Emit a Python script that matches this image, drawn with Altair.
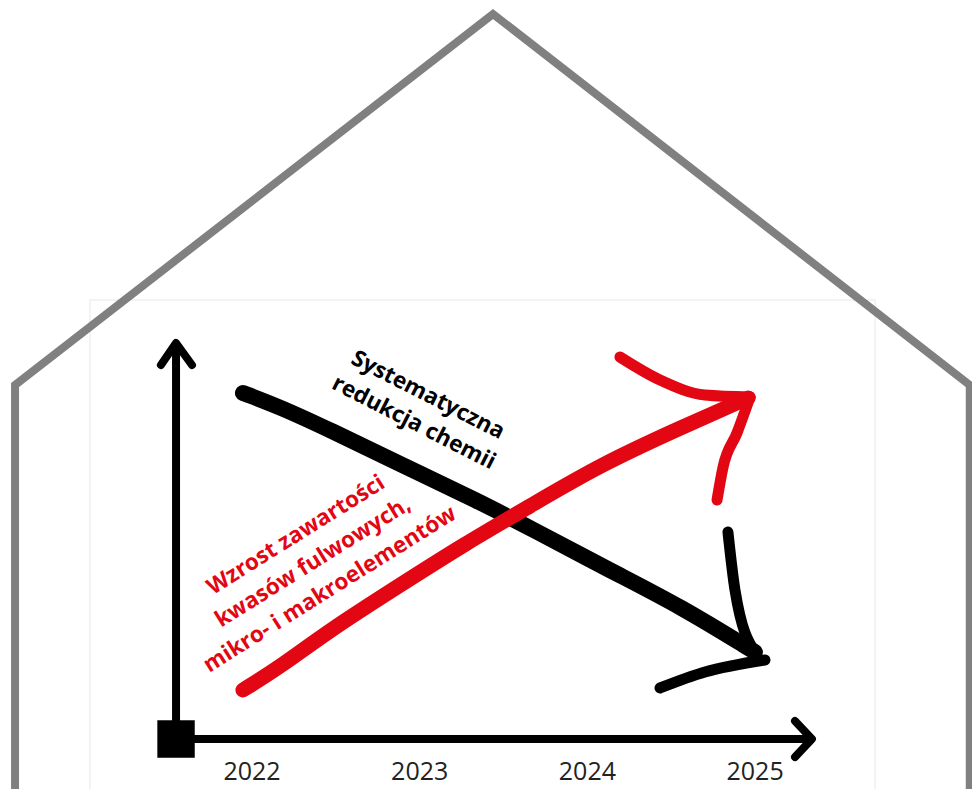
import altair as alt
import pandas as pd

# ---- coordinate system: x in years, y in abstract "level" units ----
X_DOMAIN = [2020.545, 2026.2934]
Y_DOMAIN = [-1.25, 18.275]

# ---- tick labels ----
years = [2022, 2023, 2024, 2025]
year_labels = ["2022", "2023", "2024", "2025"]
label_level = -0.82

# ---- house outline (decoration) ----
house_x = [2020.587, 2020.587, 2023.437, 2026.28, 2026.28]
house_y = [-1.6, 8.85, 18.125, 8.85, -1.6]

# ---- faint frame of the pasted picture ----
frame_x = [2021.034, 2021.034, 2025.715, 2025.715]
frame_y = [-1.6, 10.975, 10.975, -1.6]

# ---- axis arrows ----
yaxis_x = [2021.547, 2021.547]
yaxis_y = [0.0, 9.85]
yhead_x = [2021.457, 2021.547, 2021.642]
yhead_y = [9.35, 9.9, 9.35]
xaxis_x = [2021.547, 2025.327]
xaxis_y = [0.0, 0.0]
xhead_x = [2025.238, 2025.339, 2025.238]
xhead_y = [0.45, 0.0, -0.45]
origin_x = [2021.547]
origin_y = [0.0]

# ---- black series: reduction of chemistry ----
black_x = [2021.946, 2022.167, 2022.465, 2022.883, 2023.360, 2023.658, 2024.153, 2024.552, 2024.999]
black_y = [8.65, 8.3, 7.725, 6.875, 5.925, 5.275, 4.175, 3.325, 2.175]
black_barb1_x = [2024.838, 2024.880, 2024.999]
black_barb1_y = [5.175, 3.725, 2.175]
black_barb2_x = [2024.433, 2024.701, 2025.059]
black_barb2_y = [1.275, 1.675, 1.975]

# ---- red series: growth of fulvic acids / micro- and macroelements ----
red_x = [2021.946, 2022.167, 2022.465, 2022.865, 2023.258, 2023.658, 2024.075, 2024.552, 2024.958]
red_y = [1.225, 1.8, 2.725, 3.8, 4.85, 5.825, 6.85, 7.775, 8.525]
red_barb1_x = [2024.194, 2024.433, 2024.701, 2024.970]
red_barb1_y = [9.55, 8.975, 8.6, 8.55]
red_barb2_x = [2024.773, 2024.809, 2024.892, 2024.970]
red_barb2_y = [5.975, 6.8, 7.65, 8.55]

black_label = "Systematyczna\nredukcja chemii"
black_label_x, black_label_y = 2023.049, 8.6
red_label = "Wzrost zawartości\nkwasów fulwowych,\nmikro- i makroelementów"
red_label_x, red_label_y = 2022.262, 5.1

RED = "#e30613"
GREY = "#808080"
FONT = "Open Sans"

xs = alt.Scale(domain=X_DOMAIN, nice=False, zero=False)
ys = alt.Scale(domain=Y_DOMAIN, nice=False, zero=False)
X = alt.X("x:Q", scale=xs, axis=None)
Y = alt.Y("y:Q", scale=ys, axis=None)


def poly(parts):
    rows = []
    for seg, (px, py) in enumerate(parts):
        for i, (a, b) in enumerate(zip(px, py)):
            rows.append({"seg": seg, "i": i, "x": a, "y": b})
    return pd.DataFrame(rows)


def lines(df, **kw):
    return alt.Chart(df).mark_line(**kw).encode(
        x=X, y=Y, detail="seg:N", order="i:Q",
    )


frame = lines(poly([(frame_x, frame_y)]), color="#efefef", strokeWidth=1.5)
house = lines(poly([(house_x, house_y)]), color=GREY, strokeWidth=8, strokeJoin="miter")
axes = lines(
    poly([(yaxis_x, yaxis_y), (yhead_x, yhead_y), (xaxis_x, xaxis_y), (xhead_x, xhead_y)]),
    color="black", strokeWidth=8, strokeCap="round", strokeJoin="round",
)
origin = alt.Chart(pd.DataFrame({"x": origin_x, "y": origin_y})).mark_point(
    shape="square", filled=True, size=1400, color="black", opacity=1,
).encode(x=X, y=Y)

black_main = lines(poly([(black_x, black_y)]), color="black", strokeWidth=16,
                   strokeCap="round", interpolate="basis")
black_barbs = lines(poly([(black_barb1_x, black_barb1_y), (black_barb2_x, black_barb2_y)]),
                    color="black", strokeWidth=11, strokeCap="round", interpolate="monotone")
red_main = lines(poly([(red_x, red_y)]), color=RED, strokeWidth=15,
                 strokeCap="round", interpolate="basis")
red_barbs = lines(poly([(red_barb1_x, red_barb1_y), (red_barb2_x, red_barb2_y)]),
                  color=RED, strokeWidth=11, strokeCap="round", interpolate="monotone")

ticks = alt.Chart(pd.DataFrame({"x": years, "y": [label_level] * len(years), "t": year_labels})).mark_text(
    font=FONT, fontSize=25, color="#222222", baseline="middle", align="center",
).encode(x=X, y=Y, text="t:N")

black_text = alt.Chart(pd.DataFrame({"x": [black_label_x], "y": [black_label_y], "t": [black_label]})).mark_text(
    font=FONT, fontSize=22.5, fontWeight="bold", color="black", angle=27,
    align="center", baseline="middle", lineBreak="\n", lineHeight=31,
).encode(x=X, y=Y, text="t:N")

red_text = alt.Chart(pd.DataFrame({"x": [red_label_x], "y": [red_label_y], "t": [red_label]})).mark_text(
    font=FONT, fontSize=22.5, fontWeight="bold", color=RED, angle=328,
    align="center", baseline="middle", lineBreak="\n", lineHeight=32,
).encode(x=X, y=Y, text="t:N")

chart = alt.layer(
    frame, house, axes, origin, black_main, black_barbs, red_main, red_barbs,
    ticks, black_text, red_text,
).properties(
    width=964, height=781, padding=0, autosize="none", background="white",
).configure_view(stroke=None)

chart.save("out.html", embed_options={"renderer": "svg", "actions": False})
